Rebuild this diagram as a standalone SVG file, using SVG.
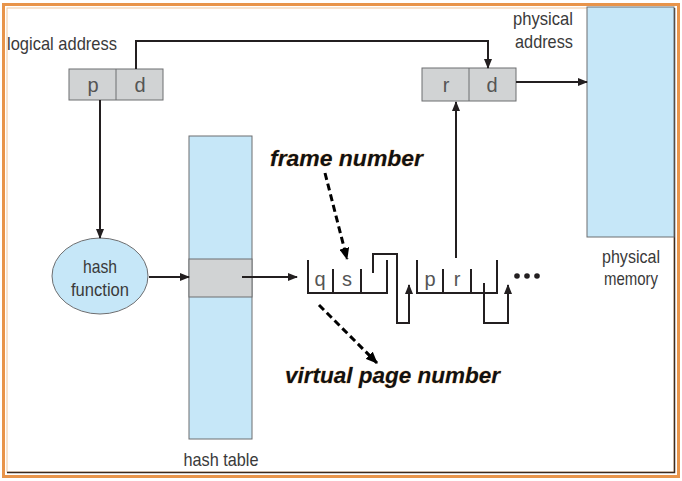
<svg xmlns="http://www.w3.org/2000/svg" width="682" height="481" viewBox="0 0 682 481">
<style>
.lbl{font-family:"Liberation Sans",Arial,sans-serif;font-size:18.5px;fill:#3a3a3a}
.cell{font-family:"Liberation Sans",Arial,sans-serif;font-size:20px;fill:#555}
.note{font-family:"Liberation Sans",Arial,sans-serif;font-size:22px;font-weight:bold;font-style:italic;fill:#111;stroke:#f0a040;stroke-width:0.4;paint-order:stroke}
.box{fill:#d1d3d4;stroke:#6d6e70;stroke-width:1}
.blue{fill:#c6e7f8;stroke:#6d6e70;stroke-width:1}
.ln{fill:none;stroke:#231f20;stroke-width:2}
.dash{fill:none;stroke:#000;stroke-width:3;stroke-dasharray:7,4}
</style>
<defs>
<marker id="ah" markerWidth="10" markerHeight="8" refX="9" refY="4" orient="auto" markerUnits="userSpaceOnUse">
<path d="M0,0 L10,4 L0,8 z" fill="#231f20"/>
</marker>
<marker id="ahd" markerWidth="12" markerHeight="10" refX="11" refY="5" orient="auto" markerUnits="userSpaceOnUse">
<path d="M0,0 L12,5 L0,10 z" fill="#000"/>
</marker>
</defs>
<rect x="0" y="0" width="682" height="481" fill="#fff"/>
<g id="frame">
<rect x="3.5" y="4.5" width="675" height="472" fill="none" stroke="#e8944a" stroke-width="3"/>
<rect x="7" y="8" width="667" height="464" fill="none" stroke="#f0c8a0" stroke-width="1"/>
<path d="M7,472.5 H674.5 V8" fill="none" stroke="#3a2a20" stroke-width="1.5"/>
</g>

<g id="logical-address">
<text class="lbl" x="7" y="50" textLength="110" lengthAdjust="spacingAndGlyphs">logical address</text>
<rect class="box" x="69" y="69" width="94" height="31"/>
<line x1="116" y1="69" x2="116" y2="100" stroke="#6d6e70"/>
<text class="cell" x="93" y="92" text-anchor="middle">p</text>
<text class="cell" x="140" y="92" text-anchor="middle">d</text>
</g>

<g id="physical-address">
<text class="lbl" x="573" y="25" text-anchor="end" textLength="60" lengthAdjust="spacingAndGlyphs">physical</text>
<text class="lbl" x="573" y="48" text-anchor="end" textLength="58" lengthAdjust="spacingAndGlyphs">address</text>
<rect class="box" x="422" y="68" width="94" height="33"/>
<line x1="469" y1="68" x2="469" y2="101" stroke="#6d6e70"/>
<text class="cell" x="446" y="92" text-anchor="middle">r</text>
<text class="cell" x="492" y="92" text-anchor="middle">d</text>
</g>

<g id="physical-memory">
<rect class="blue" x="587" y="7" width="87" height="230"/>
<text class="lbl" x="631" y="263" text-anchor="middle" textLength="58" lengthAdjust="spacingAndGlyphs">physical</text>
<text class="lbl" x="631" y="285" text-anchor="middle" textLength="54" lengthAdjust="spacingAndGlyphs">memory</text>
</g>

<g id="hash-function">
<ellipse cx="100" cy="276" rx="48" ry="38" fill="#c6e7f8" stroke="#6d6e70" stroke-width="1"/>
<text class="lbl" x="100" y="273" text-anchor="middle" textLength="34" lengthAdjust="spacingAndGlyphs">hash</text>
<text class="lbl" x="100" y="296" text-anchor="middle" textLength="58" lengthAdjust="spacingAndGlyphs">function</text>
</g>

<g id="hash-table">
<rect class="blue" x="189" y="136" width="63" height="303"/>
<rect class="box" x="189" y="259" width="63" height="38"/>
<text class="lbl" x="221" y="466" text-anchor="middle" textLength="75" lengthAdjust="spacingAndGlyphs">hash table</text>
</g>

<g id="entry-1">
<path class="ln" d="M308,260 V293 H387 V260"/>
<path class="ln" d="M333,269 V293 M361,269 V293"/>
<text class="cell" x="320" y="286" text-anchor="middle">q</text>
<text class="cell" x="347" y="286" text-anchor="middle">s</text>
</g>

<g id="entry-2">
<path class="ln" d="M417,260 V293 H497 V260"/>
<path class="ln" d="M443,269 V293 M471,269 V293"/>
<text class="cell" x="430" y="286" text-anchor="middle">p</text>
<text class="cell" x="457" y="286" text-anchor="middle">r</text>
</g>

<g id="more">
<circle cx="517" cy="276" r="2.8" fill="#231f20"/>
<circle cx="527" cy="276" r="2.8" fill="#231f20"/>
<circle cx="537" cy="276" r="2.8" fill="#231f20"/>
</g>

<g id="labels">
<text class="note" x="270" y="166" textLength="153" lengthAdjust="spacingAndGlyphs">frame number</text>
<text class="note" x="285" y="383" textLength="215" lengthAdjust="spacingAndGlyphs">virtual page number</text>
</g>

<g id="connectors">
<path class="ln" d="M136,69 V41 H488 V68" marker-end="url(#ah)"/>
<path class="ln" d="M516,82 H587" marker-end="url(#ah)"/>
<path class="ln" d="M100,100 V238" marker-end="url(#ah)"/>
<path class="ln" d="M149,277 H189" marker-end="url(#ah)"/>
<path class="ln" d="M242,277 H297" marker-end="url(#ah)"/>
<path class="ln" d="M373,273 V254 H397 V323 H409 V285" marker-end="url(#ah)"/>
<path class="ln" d="M484,283 V323 H508 V285" marker-end="url(#ah)"/>
<path class="ln" d="M456,258 V102" marker-end="url(#ah)"/>
<path class="dash" d="M325,173 L347,259" marker-end="url(#ahd)"/>
<path class="dash" d="M319,305 L377,363" marker-end="url(#ahd)"/>
</g>
</svg>
